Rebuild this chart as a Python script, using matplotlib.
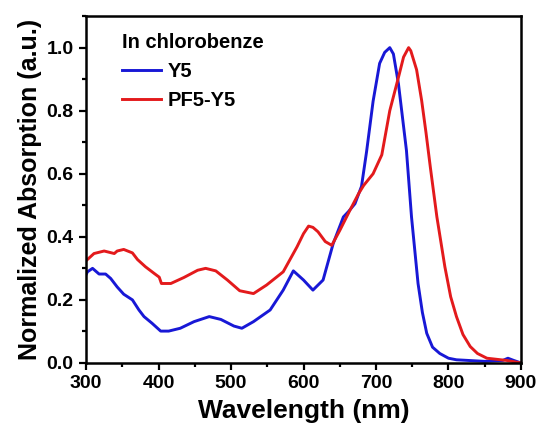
import numpy as np
import matplotlib.pyplot as plt
from matplotlib.ticker import MultipleLocator

plt.rcParams["font.family"] = ["Liberation Sans", "DejaVu Sans"]
plt.rcParams["font.weight"] = "bold"

# Y5 absorption in chlorobenzene
wl_y5 = [300, 302, 309, 318, 327, 334, 343, 352, 364, 373, 380, 391, 403, 414,
         430, 449, 470, 486, 504, 515, 531, 554, 572, 586, 600, 613, 627, 641,
         655, 662, 671, 680, 687, 696, 705, 712, 719, 724, 731, 742, 749, 758,
         764, 770, 778, 788, 800, 811, 850, 875, 882, 890, 900]
abs_y5 = [0.28, 0.289, 0.30, 0.282, 0.282, 0.268, 0.241, 0.218, 0.20, 0.168,
          0.147, 0.126, 0.101, 0.101, 0.11, 0.131, 0.147, 0.138, 0.117, 0.11,
          0.131, 0.168, 0.231, 0.292, 0.263, 0.231, 0.263, 0.379, 0.463, 0.48,
          0.505, 0.56, 0.67, 0.83, 0.95, 0.985, 1.00, 0.98, 0.885, 0.674, 0.463,
          0.252, 0.16, 0.094, 0.05, 0.03, 0.015, 0.01, 0.005, 0.008, 0.015,
          0.008, 0.0]

# PF5-Y5 absorption in chlorobenzene
wl_pf = [300, 311, 325, 339, 343, 352, 364, 371, 382, 394, 401, 404, 417, 435,
         454, 465, 479, 495, 512, 531, 549, 572, 591, 600, 607, 613, 620, 630,
         639, 650, 664, 676, 683, 696, 708, 719, 731, 738, 745, 748, 756, 763,
         769, 775, 784, 795, 803, 811, 820, 830, 840, 853, 880, 900]
abs_pf = [0.324, 0.347, 0.355, 0.347, 0.355, 0.36, 0.349, 0.328, 0.305, 0.284,
          0.272, 0.252, 0.252, 0.271, 0.294, 0.30, 0.292, 0.263, 0.229, 0.22,
          0.247, 0.289, 0.368, 0.41, 0.434, 0.43, 0.416, 0.385, 0.373, 0.42,
          0.484, 0.537, 0.563, 0.60, 0.66, 0.80, 0.906, 0.97, 1.00, 0.99, 0.93,
          0.832, 0.73, 0.62, 0.463, 0.305, 0.21, 0.147, 0.09, 0.052, 0.03,
          0.015, 0.008, 0.0]

fig = plt.figure(figsize=(5.41, 4.24), dpi=100)
ax = fig.add_axes([0.159, 0.144, 0.804, 0.818])

ax.plot(wl_y5, abs_y5, color="#1818d6", lw=2.1, label="Y5")
ax.plot(wl_pf, abs_pf, color="#e31a1c", lw=2.1, label="PF5-Y5")

ax.set_xlim(300, 900)
ax.set_ylim(0, 1.1)
ax.xaxis.set_major_locator(MultipleLocator(100))
ax.xaxis.set_minor_locator(MultipleLocator(50))
ax.yaxis.set_major_locator(MultipleLocator(0.2))
ax.yaxis.set_minor_locator(MultipleLocator(0.1))
ax.yaxis.set_major_formatter(plt.FormatStrFormatter("%.1f"))
ax.tick_params(which="both", direction="out", width=1.6, labelsize=14, pad=4)
ax.tick_params(which="major", length=5)
ax.tick_params(which="minor", length=3)
for s in ax.spines.values():
    s.set_linewidth(1.8)

ax.set_xlabel("Wavelength (nm)", fontsize=19, fontweight="bold", labelpad=5)
ax.set_ylabel("Normalized Absorption (a.u.)", fontsize=18, fontweight="bold", labelpad=3)

leg = ax.legend(title="In chlorobenze", loc="upper left", frameon=False,
                fontsize=14.5, title_fontproperties={"size": 14.5, "weight": "bold"},
                handlelength=1.95, handletextpad=0.3, labelspacing=0.5,
                borderpad=0, borderaxespad=0, bbox_to_anchor=(0.083, 0.952))
leg._legend_box.align = "left"

fig.savefig("out.png", dpi=100)
